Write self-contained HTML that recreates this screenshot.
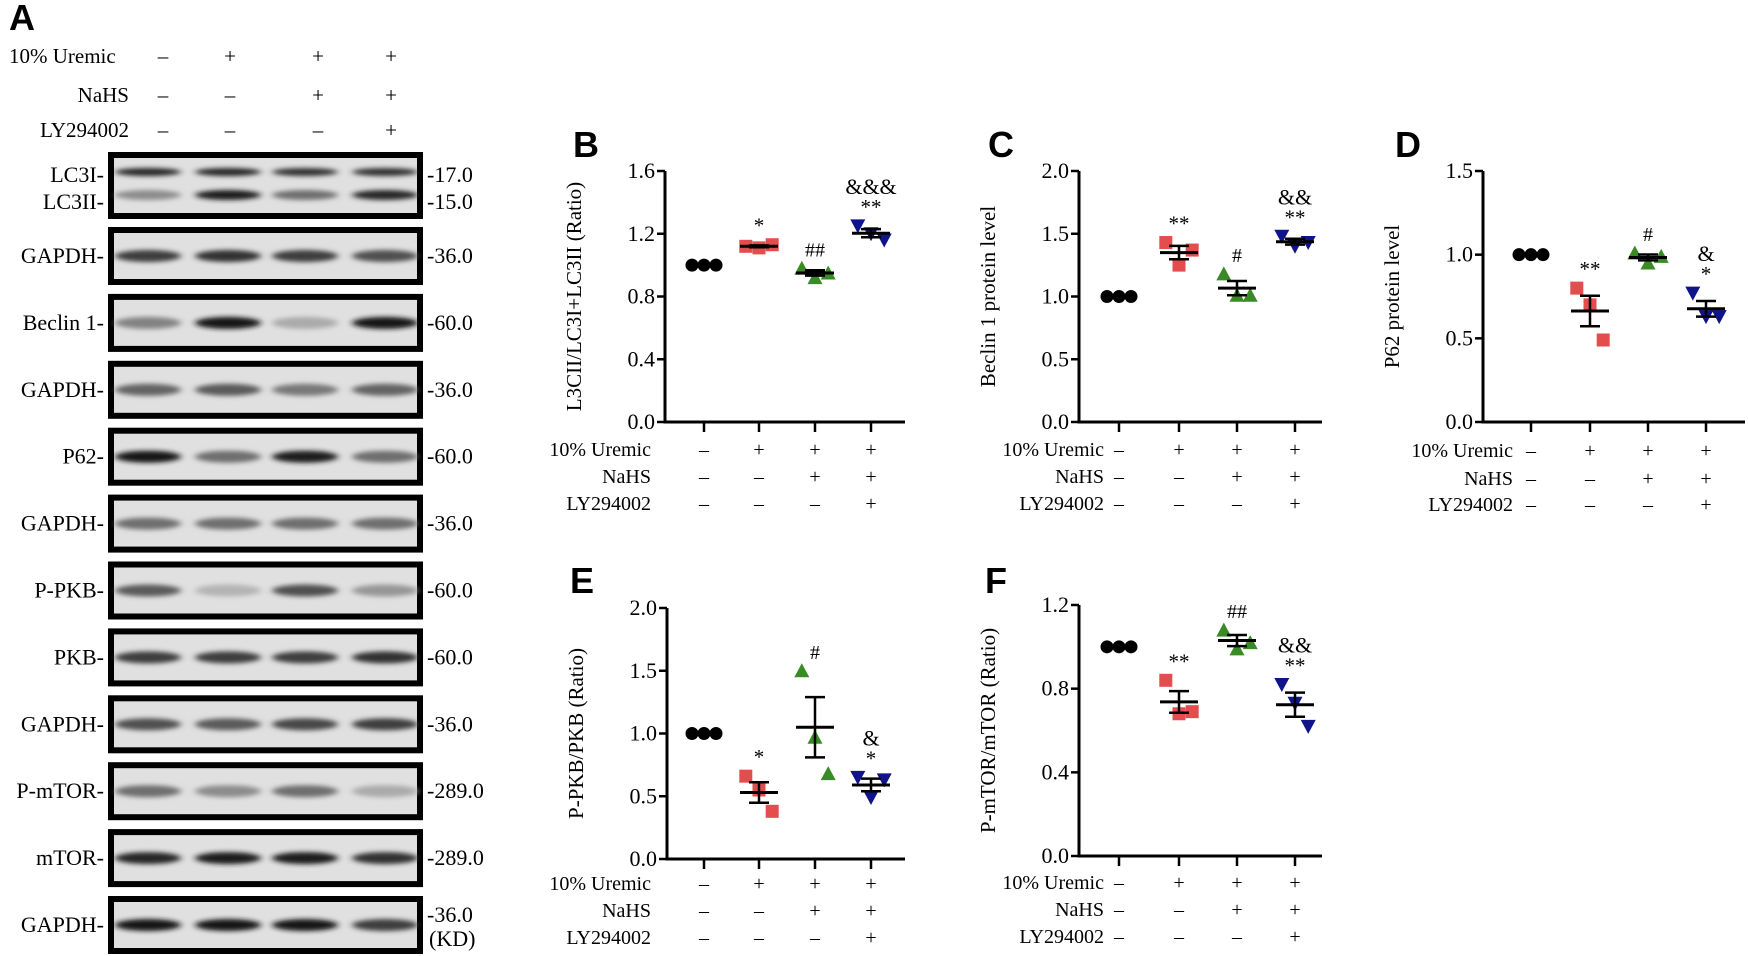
<!DOCTYPE html>
<html><head><meta charset="utf-8">
<style>
html,body{margin:0;padding:0;background:#fff;}
svg{display:block;font-family:"Liberation Serif",serif;}
.ltr{font-family:"Liberation Sans",sans-serif;font-weight:bold;font-size:36px;}
</style></head>
<body>
<svg id="fig" width="1748" height="956" viewBox="0 0 1748 956" xmlns="http://www.w3.org/2000/svg">
<defs><filter id="blur" x="-30%" y="-100%" width="160%" height="300%"><feGaussianBlur stdDeviation="3.5 2.5"/></filter></defs>
</svg>
<script>
// ---- data ----
const groups = ['control','uremic','uremic-nahs','uremic-nahs-ly'];
const uremicRow = ['–','+','+','+'];
const nahsRow = ['–','–','+','+'];
const lyRow = ['–','–','–','+'];
const bVals = [[1,1,1],[1.12,1.11,1.13],[0.98,0.92,0.95],[1.25,1.20,1.16]];
const cVals = [[1,1,1],[1.43,1.25,1.37],[1.18,1.01,1.01],[1.48,1.40,1.43]];
const dVals = [[1,1,1],[0.80,0.70,0.49],[1.01,0.95,0.99],[0.77,0.63,0.63]];
const eVals = [[1,1,1],[0.66,0.55,0.38],[1.50,0.97,0.68],[0.65,0.49,0.63]];
const fVals = [[1,1,1],[0.84,0.68,0.69],[1.08,0.99,1.02],[0.82,0.73,0.62]];
const bTicks = [0,0.4,0.8,1.2,1.6];
const cTicks = [0,0.5,1.0,1.5,2.0];
const dTicks = [0,0.5,1.0,1.5];
const eTicks = [0,0.5,1.0,1.5,2.0];
const fTicks = [0,0.4,0.8,1.2];
const bSig = ['','*','##','**'];   const bSig2 = ['','','','&&&'];
const cSig = ['','**','#','**'];   const cSig2 = ['','','','&&'];
const dSig = ['','**','#','*'];    const dSig2 = ['','','','&'];
const eSig = ['','*','#','*'];     const eSig2 = ['','','','&'];
const fSig = ['','**','##','**'];  const fSig2 = ['','','','&&'];
const blotLabels = ['GAPDH-','Beclin 1-','GAPDH-','P62-','GAPDH-','P-PKB-','PKB-','GAPDH-','P-mTOR-','mTOR-','GAPDH-'];
const blotMW = ['-36.0','-60.0','-36.0','-60.0','-36.0','-60.0','-60.0','-36.0','-289.0','-289.0','-36.0'];
const blotDark = [[.75,.8,.75,.65],[.4,.95,.2,.95],[.55,.6,.45,.55],[.95,.5,.9,.5],[.5,.5,.5,.5],[.6,.15,.65,.3],[.75,.75,.75,.8],[.65,.6,.7,.75],[.5,.35,.5,.2],[.85,.9,.9,.8],[.95,.95,.95,.75]];
const lc3IDark = [.85,.85,.8,.8];
const lc3IIDark = [.35,.9,.5,.85];

const NS='http://www.w3.org/2000/svg';
const svg=document.getElementById('fig');
function mk(tag,attrs,parent){const e=document.createElementNS(NS,tag);for(const k in attrs)e.setAttribute(k,attrs[k]);(parent||svg).appendChild(e);return e;}
function txt(s,attrs,parent){const e=mk('text',attrs,parent);e.textContent=s;return e;}

// ---- panel letters ----
[['A',9,30],['B',573,157],['C',988,157],['D',1395,157],['E',570,593],['F',985,593]].forEach(p=>{
  const t=txt(p[0],{x:p[1],y:p[2],class:'ltr'});
  
  
});

// ---- western blot (A) ----
const laneX=[148,228,305,385];
const headX=[163,230,318,391];
[['10% Uremic',56,uremicRow,9,'start'],['NaHS',95,nahsRow,129,'end'],['LY294002',130,lyRow,129,'end']].forEach((r,i)=>{
  const t=txt(r[0],{x:r[3],y:r[1]+7,'text-anchor':r[4],'font-size':21});
  
  
  r[2].forEach((s,j)=>{
    const u=txt(s,{x:headX[j],y:r[1]+7,'text-anchor':'middle','font-size':21});
    
    
  });
});
function blotBox(y0,h,name){
  const g=mk('g',{});
  
  
  mk('rect',{x:108,y:y0,width:315,height:h,fill:'#000'},g);
  mk('rect',{x:114,y:y0+6,width:303,height:h-12,fill:'#e0e0e0'},g);
  return g;
}
function band(g,x,y,d,h){
  const v=Math.round(210-200*d);
  mk('ellipse',{cx:x,cy:y,rx:33,ry:h,fill:`rgb(${v},${v},${v})`,filter:'url(#blur)'},g);
}
{
  const g=blotBox(152,67,'blot-lc3');
  lc3IDark.forEach((d,j)=>band(g,laneX[j],172,d,4));
  lc3IIDark.forEach((d,j)=>band(g,laneX[j],195,d,5));
  const a=txt('LC3I-',{x:104,y:182,'text-anchor':'end','font-size':22});
  
  
  const b=txt('LC3II-',{x:104,y:209,'text-anchor':'end','font-size':22});
  
  
  const c=txt('-17.0',{x:427,y:182,'font-size':22});
  
  
  const d=txt('-15.0',{x:427,y:209,'font-size':22});
  
  
}
blotLabels.forEach((lab,i)=>{
  const cy=256+i*66.9, y0=cy-29;
  const g=blotBox(y0,58,'blot-'+lab.replace('-','').replace(' ','').toLowerCase());
  blotDark[i].forEach((d,j)=>band(g,laneX[j],cy,d,6));
  const t=txt(lab,{x:104,y:cy+7,'text-anchor':'end','font-size':22});
  
  
  const last=i===blotLabels.length-1;
  const m=txt(blotMW[i],{x:427,y:cy+(last?-3:7),'font-size':22});
  
  
});
{const k=txt('(KD)',{x:429,y:946,'font-size':22});

}

// ---- scatter panels ----
const colors=['#000','#e03a3a','#3a8a26','#10148a'];
function marker(g,type,x,y,c){
  const s=6.5;let e;
  if(type===0) e=mk('circle',{cx:x,cy:y,r:s,fill:c},g);
  else if(type===1) e=mk('rect',{x:x-s,y:y-s,width:2*s,height:2*s,fill:c,opacity:0.9},g);
  else if(type===2) e=mk('polygon',{points:`${x},${y-s-1} ${x+s+1},${y+s} ${x-s-1},${y+s}`,fill:c},g);
  else e=mk('polygon',{points:`${x},${y+s+1} ${x+s+1},${y-s} ${x-s-1},${y-s}`,fill:c},g);
  return e;
}
function panel(cfg){
  const g=mk('g',{});
  
  
  const vmax=cfg.ticks[cfg.ticks.length-1];
  const yS=v=>cfg.yBot-(v/vmax)*(cfg.yBot-cfg.yTop);
  mk('line',{x1:cfg.x0,y1:cfg.yTop,x2:cfg.x0,y2:cfg.yBot+1.5,stroke:'#000','stroke-width':3},g);
  mk('line',{x1:cfg.x0-1.5,y1:cfg.yBot,x2:cfg.xEnd,y2:cfg.yBot,stroke:'#000','stroke-width':3},g);
  cfg.ticks.forEach(t=>{
    const y=yS(t);
    const tk=mk('line',{x1:cfg.x0-8,y1:y,x2:cfg.x0,y2:y,stroke:'#000','stroke-width':2.5},g);
    
    
    const tl=txt(t.toFixed(1),{x:cfg.x0-10,y:y+7,'text-anchor':'end','font-size':22},g);
    
    
  });
  const ym=(cfg.yTop+cfg.yBot)/2, xt=cfg.x0-84;
  const at=txt(cfg.title,{x:xt,y:ym,'text-anchor':'middle','font-size':21,transform:`rotate(-90 ${xt} ${ym})`},g);
  
  
  cfg.tx.forEach(x=>{
    const tk=mk('line',{x1:x,y1:cfg.yBot,x2:x,y2:cfg.yBot+10,stroke:'#000','stroke-width':2.5},g);
    
    
  });
  [['10% Uremic',uremicRow],['NaHS',nahsRow],['LY294002',lyRow]].forEach((r,i)=>{
    const y=cfg.rows[i]+6;
    const l=txt(r[0],{x:cfg.labRight,y:y,'text-anchor':'end','font-size':20},g);
    
    
    r[1].forEach((s,j)=>{
      const u=txt(s,{x:cfg.tx[j],y:y,'text-anchor':'middle','font-size':20},g);
      
      
    });
  });
  cfg.vals.forEach((vs,j)=>{
    const gg=mk('g',{},g);
    
    
    const x=cfg.tx[j];
    const n=vs.length, mean=vs.reduce((a,b)=>a+b,0)/n;
    const sd=Math.sqrt(vs.reduce((a,b)=>a+(b-mean)**2,0)/(n-1));
    const sem=sd/Math.sqrt(n);
    const offs=[-12,0,12];
    vs.forEach((v,k)=>{
      const m=marker(gg,j,x+(j===0?offs[k]:offs[k]*1.1),yS(v),colors[j]);
      
      
    });
    if(j>0){
      const ml=mk('line',{x1:x-19,y1:yS(mean),x2:x+19,y2:yS(mean),stroke:'#000','stroke-width':3},gg);
      
      
      const el=mk('path',{d:`M${x},${yS(mean+sem)}V${yS(mean-sem)}M${x-10},${yS(mean+sem)}H${x+10}M${x-10},${yS(mean-sem)}H${x+10}`,stroke:'#000','stroke-width':2.5,fill:'none'},gg);
      
      
    }
    const top=Math.min(yS(Math.max(...vs)),yS(mean+sem))-12;
    if(cfg.sig[j]){
      const s=txt(cfg.sig[j],{x:x,y:top,'text-anchor':'middle','font-size':cfg.sig[j][0]==='*'?21:20},gg);
      
      
    }
    if(cfg.sig2[j]){
      const s=txt(cfg.sig2[j],{x:x,y:top-20,'text-anchor':'middle','font-size':22},gg);
      
      
    }
  });
}
const txB=[704,759,815,871], txC=[1119,1179,1237,1295], txD=[1531,1590,1648,1706];
panel({name:'chart-b-lc3-ratio',vals:bVals,ticks:bTicks,sig:bSig,sig2:bSig2,title:'L3CII/LC3I+LC3II (Ratio)',x0:665,xEnd:905,yTop:171,yBot:422,tx:txB,rows:[450,477,504],labRight:651});
panel({name:'chart-c-beclin1',vals:cVals,ticks:cTicks,sig:cSig,sig2:cSig2,title:'Beclin 1 protein level',x0:1079,xEnd:1322,yTop:171,yBot:422,tx:txC,rows:[450,477,504],labRight:1104});
panel({name:'chart-d-p62',vals:dVals,ticks:dTicks,sig:dSig,sig2:dSig2,title:'P62 protein level',x0:1483,xEnd:1745,yTop:171,yBot:422,tx:txD,rows:[451,479,505],labRight:1513});
panel({name:'chart-e-ppkb-ratio',vals:eVals,ticks:eTicks,sig:eSig,sig2:eSig2,title:'P-PKB/PKB (Ratio)',x0:667,xEnd:905,yTop:608,yBot:859,tx:txB,rows:[884,911,938],labRight:651});
panel({name:'chart-f-pmtor-ratio',vals:fVals,ticks:fTicks,sig:fSig,sig2:fSig2,title:'P-mTOR/mTOR (Ratio)',x0:1079,xEnd:1322,yTop:605,yBot:856,tx:txC,rows:[883,910,937],labRight:1104});
</script>
</body></html>
